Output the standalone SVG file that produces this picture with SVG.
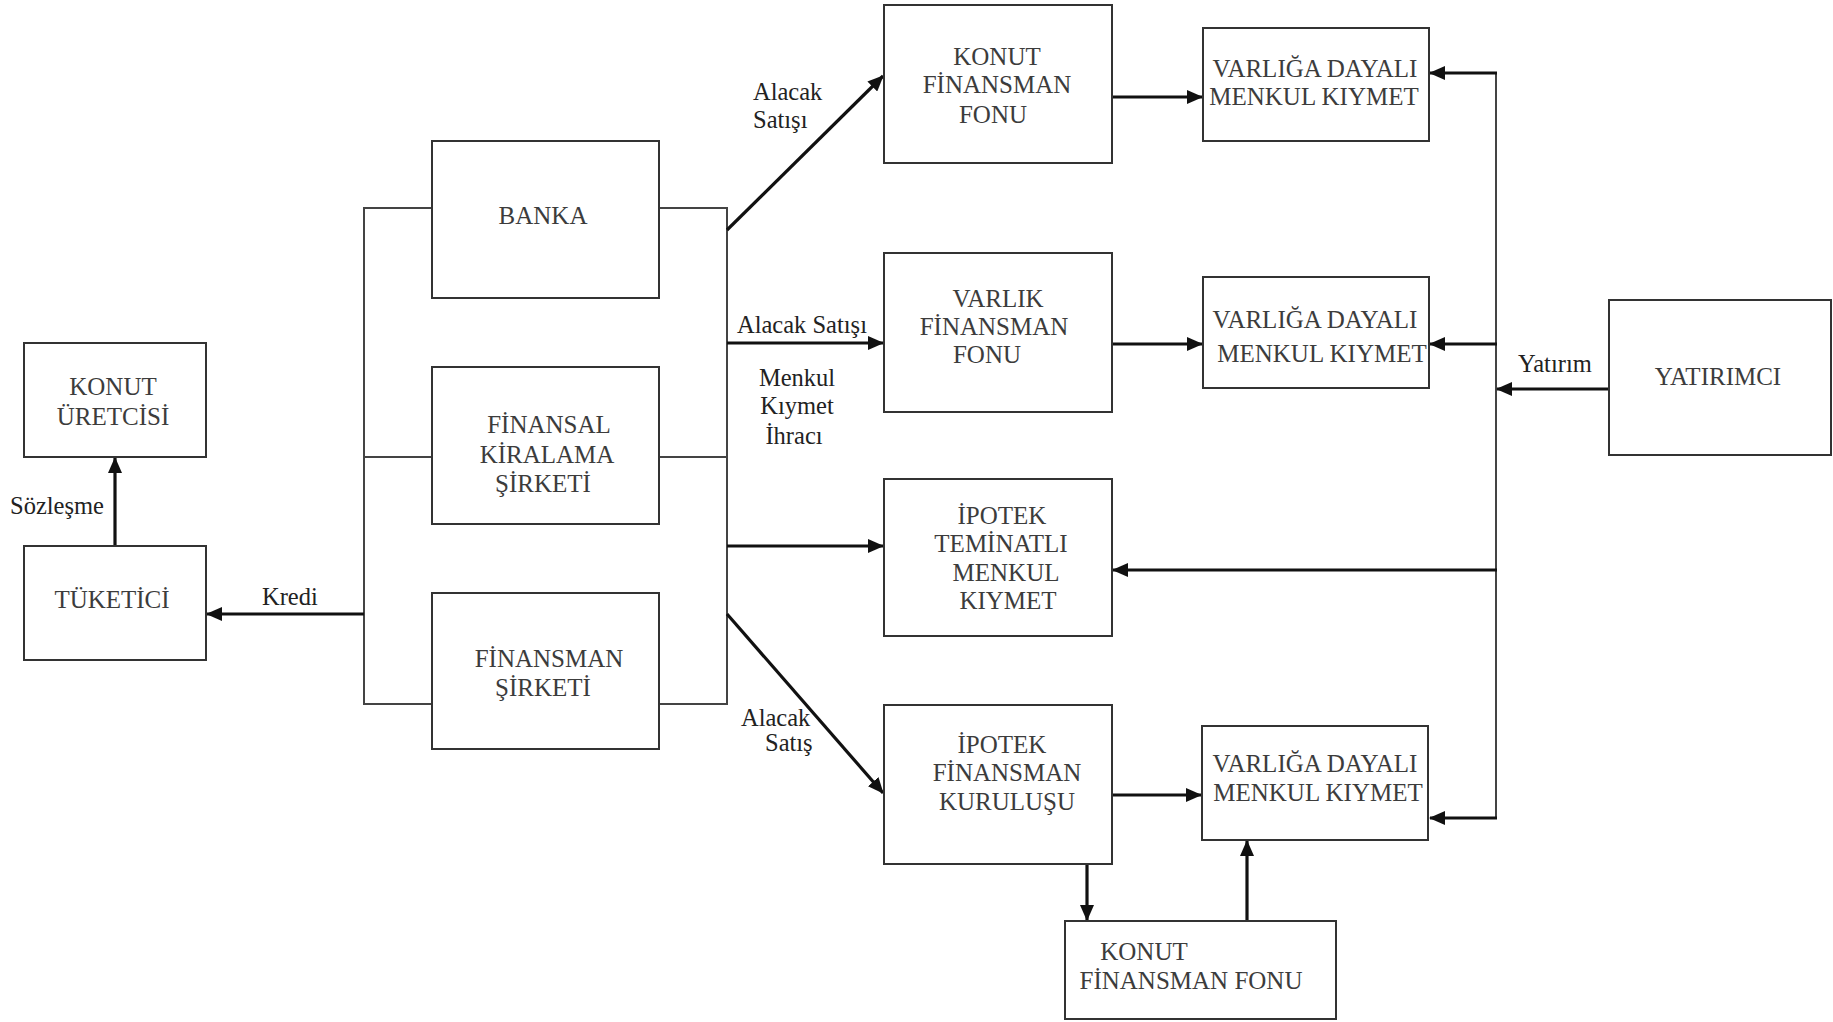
<svg xmlns="http://www.w3.org/2000/svg" width="1833" height="1022" viewBox="0 0 1833 1022">
<style>
.box{fill:#fff;stroke:#333;stroke-width:2}
.t{font-family:"Liberation Serif","Times New Roman",serif;font-size:25px;fill:#3c3c3c;text-anchor:middle}
.l{font-family:"Liberation Serif","Times New Roman",serif;font-size:24.5px;fill:#222}
.bus{fill:none;stroke:#444;stroke-width:2}
.arr{fill:none;stroke:#111;stroke-width:3.2;marker-end:url(#ah)}
</style>
<defs>
<marker id="ah" markerUnits="userSpaceOnUse" markerWidth="16" markerHeight="14" refX="15" refY="7" orient="auto">
<path d="M0,0 L16,7 L0,14 z" fill="#111"/>
</marker>
</defs>
<rect width="1833" height="1022" fill="#fff"/>
<g id="connectors">
<path class="bus" d="M432,208 H364 V704 H432 M364,457 H432"/>
<path class="bus" d="M659,208 H727 V704 H659 M659,457 H727"/>
<line class="arr" x1="115" y1="546" x2="115" y2="458"/>
<line class="arr" x1="364" y1="614" x2="207" y2="614"/>
<line class="arr" x1="727" y1="230" x2="883" y2="76"/>
<line class="arr" x1="727" y1="343" x2="883" y2="343"/>
<line class="arr" x1="727" y1="546" x2="883" y2="546"/>
<line class="arr" x1="727" y1="614" x2="883" y2="793"/>
<line class="arr" x1="1112" y1="97" x2="1202" y2="97"/>
<line class="arr" x1="1112" y1="344" x2="1202" y2="344"/>
<line class="arr" x1="1112" y1="795" x2="1201" y2="795"/>
<path class="bus" d="M1496,73 V818"/>
<line class="arr" x1="1497" y1="73" x2="1430" y2="73"/>
<line class="arr" x1="1497" y1="344" x2="1430" y2="344"/>
<line class="arr" x1="1497" y1="570" x2="1113" y2="570"/>
<line class="arr" x1="1497" y1="818" x2="1430" y2="818"/>
<line class="arr" x1="1609" y1="389" x2="1497" y2="389"/>
<line class="arr" x1="1087" y1="853" x2="1087" y2="920"/>
<line class="arr" x1="1247" y1="931" x2="1247" y2="841"/>
<text class="l" x="753" y="100">Alacak</text>
<text class="l" x="753" y="128">Satışı</text>
<text class="l" x="737" y="333">Alacak Satışı</text>
<text class="l" x="797" y="386" text-anchor="middle">Menkul</text>
<text class="l" x="797" y="414" text-anchor="middle">Kıymet</text>
<text class="l" x="794" y="444" text-anchor="middle">İhracı</text>
<text class="l" x="741" y="726">Alacak</text>
<text class="l" x="765" y="751">Satış</text>
<text class="l" x="262" y="605">Kredi</text>
<text class="l" x="10" y="514">Sözleşme</text>
<text class="l" x="1518" y="372">Yatırım</text>
</g>
<g id="konut-uretcisi"><rect class="box" x="24" y="343" width="182" height="114"/><text class="t" x="113" y="395">KONUT</text><text class="t" x="113" y="425">ÜRETCİSİ</text></g>
<g id="tuketici"><rect class="box" x="24" y="546" width="182" height="114"/><text class="t" x="112" y="608">TÜKETİCİ</text></g>
<g id="banka"><rect class="box" x="432" y="141" width="227" height="157"/><text class="t" x="543" y="224">BANKA</text></g>
<g id="finansal-kiralama"><rect class="box" x="432" y="367" width="227" height="157"/><text class="t" x="549" y="433">FİNANSAL</text><text class="t" x="547" y="463">KİRALAMA</text><text class="t" x="543" y="492">ŞİRKETİ</text></g>
<g id="finansman-sirketi"><rect class="box" x="432" y="593" width="227" height="156"/><text class="t" x="549" y="667">FİNANSMAN</text><text class="t" x="543" y="696">ŞİRKETİ</text></g>
<g id="konut-finansman-fonu"><rect class="box" x="884" y="5" width="228" height="158"/><text class="t" x="997" y="65">KONUT</text><text class="t" x="997" y="93">FİNANSMAN</text><text class="t" x="993" y="123">FONU</text></g>
<g id="varlik-finansman-fonu"><rect class="box" x="884" y="253" width="228" height="159"/><text class="t" x="998" y="307">VARLIK</text><text class="t" x="994" y="335">FİNANSMAN</text><text class="t" x="987" y="363">FONU</text></g>
<g id="ipotek-teminatli"><rect class="box" x="884" y="479" width="228" height="157"/><text class="t" x="1002" y="524">İPOTEK</text><text class="t" x="1001" y="552">TEMİNATLI</text><text class="t" x="1006" y="581">MENKUL</text><text class="t" x="1008" y="609">KIYMET</text></g>
<g id="ipotek-finansman"><rect class="box" x="884" y="705" width="228" height="159"/><text class="t" x="1002" y="753">İPOTEK</text><text class="t" x="1007" y="781">FİNANSMAN</text><text class="t" x="1007" y="810">KURULUŞU</text></g>
<g id="vdmk1"><rect class="box" x="1203" y="28" width="226" height="113"/><text class="t" x="1315" y="77">VARLIĞA DAYALI</text><text class="t" x="1314" y="105">MENKUL KIYMET</text></g>
<g id="vdmk2"><rect class="box" x="1203" y="277" width="226" height="111"/><text class="t" x="1315" y="328">VARLIĞA DAYALI</text><text class="t" x="1322" y="362">MENKUL KIYMET</text></g>
<g id="vdmk3"><rect class="box" x="1202" y="726" width="226" height="114"/><text class="t" x="1315" y="772">VARLIĞA DAYALI</text><text class="t" x="1318" y="801">MENKUL KIYMET</text></g>
<g id="konut-finansman-fonu-2"><rect class="box" x="1065" y="921" width="271" height="98"/><text class="t" x="1144" y="960">KONUT</text><text class="t" x="1191" y="989">FİNANSMAN FONU</text></g>
<g id="yatirimci"><rect class="box" x="1609" y="300" width="222" height="155"/><text class="t" x="1718" y="385">YATIRIMCI</text></g>
</svg>
